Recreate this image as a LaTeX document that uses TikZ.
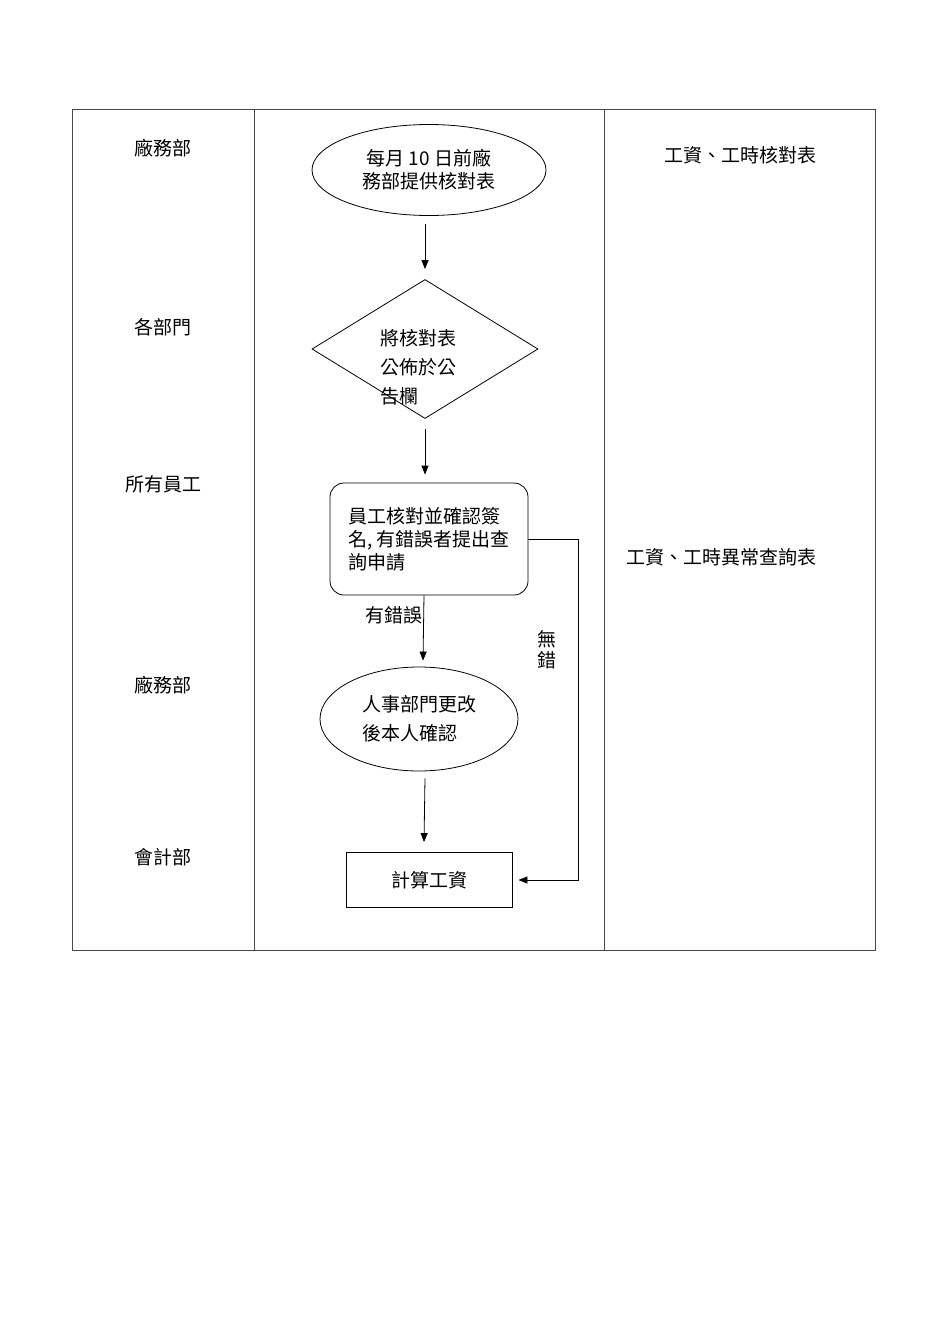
\documentclass[tikz,border=0pt]{standalone}
\usepackage{fontspec}
\setmainfont{Noto Sans CJK TC}
\usetikzlibrary{shapes.geometric,arrows.meta}
\definecolor{frameGray}{RGB}{70,70,70}
\tikzset{
  frame/.style={draw=frameGray, line width=0.9pt},
  flow/.style={draw=black, line width=0.8pt, -{Triangle[length=9pt,width=7pt]}},
  termnode/.style={ellipse, draw, line width=0.8pt, inner sep=0pt, align=center},
  decnode/.style={diamond, draw, line width=0.8pt, inner sep=0pt, aspect=1.63},
  procbox/.style={rectangle, draw, line width=0.8pt, rounded corners=14pt, inner sep=0pt, align=left},
  calcbox/.style={rectangle, draw, line width=0.8pt, inner sep=0pt},
  lanetxt/.style={inner sep=0pt},
}

\begin{document}
\begin{tikzpicture}[x=1pt,y=-1pt,font=\fontsize{19}{23}\selectfont]
\useasboundingbox (0,0) rectangle (950,1344);
% table frame
\draw[frame] (72,109) rectangle (875,950);
\draw[frame] (254,109) -- (254,950);
\draw[frame] (604,109) -- (604,950);
% departments (left column)
\node[lanetxt] (dept1) at (163,148) {廠務部};
\node[lanetxt] (dept2) at (163,327) {各部門};
\node[lanetxt] (dept3) at (163,484) {所有員工};
\node[lanetxt] (dept4) at (163,685) {廠務部};
\node[lanetxt] (dept5) at (163,857) {會計部};
% forms (right column)
\node[lanetxt] (form1) at (740,155) {工資、工時核對表};
\node[lanetxt] (form2) at (721,557) {工資、工時異常查詢表};
% flow steps
\node[termnode, minimum width=234pt, minimum height=91pt] (supply) at (429,170) {每月 10 日前廠\\務部提供核對表};
\node[decnode, minimum width=226pt, minimum height=139pt] (post) at (425,349) {};
\node[lanetxt, align=left, font=\fontsize{19}{29}\selectfont] (posttxt) at (418,367) {將核對表\\公佈於公\\告欄};
\node[procbox, minimum width=198pt, minimum height=112pt] (check) at (429,539) {員工核對並確認簽\\名, 有錯誤者提出查\\詢申請};
\node[termnode, align=left, font=\fontsize{19}{29}\selectfont, minimum width=198pt, minimum height=104pt] (fix) at (419,719) {人事部門更改\\後本人確認};
\node[calcbox, minimum width=166pt, minimum height=55pt] (pay) at (429,880) {計算工資};
% arrows
\draw[flow] ([xshift=-4pt,yshift=-8pt]supply.south) -- ([yshift=10pt]post.north);
\draw[flow] ([yshift=-10pt]post.south) -- ([xshift=-4pt,yshift=8pt]check.north);
\draw[flow] ([xshift=-5pt]check.south) -- node[left, inner sep=1pt, pos=0.3] (errlbl) {有錯誤} ([xshift=4pt,yshift=6pt]fix.north);
\draw[flow] ([xshift=6pt,yshift=-7pt]fix.south) -- ([xshift=-5pt,yshift=10pt]pay.north);
\draw[flow] (check.east) -- ++(50pt,0) |- ([xshift=6pt]pay.east);
\node[lanetxt, align=center, font=\fontsize{19}{21}\selectfont] (oklbl) at (547,650) {無\\錯};
\end{tikzpicture}
\end{document}
